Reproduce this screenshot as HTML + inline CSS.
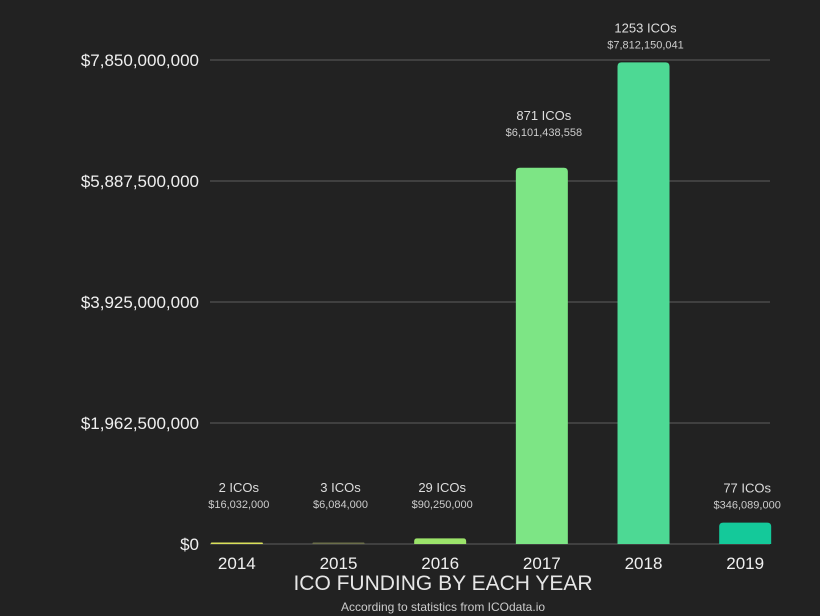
<!DOCTYPE html>
<html><head><meta charset="utf-8"><style>
html,body{margin:0;padding:0;background:#222222;}
svg{display:block;font-family:"Liberation Sans",sans-serif;}
</style></head><body>
<svg id="c" width="820" height="616">
<rect width="820" height="616" fill="#222222"/>
<g id="grid"></g><g id="bars"></g><g id="labels"></g>
<text x="443" y="590" text-anchor="middle" font-size="21" fill="#e6e6e6">ICO FUNDING BY EACH YEAR</text>
<text x="443" y="611" text-anchor="middle" font-size="12" fill="#cccccc">According to statistics from ICOdata.io</text>
</svg>
<script>
const years=["2014","2015","2016","2017","2018","2019"];
const funding=[16032000,6084000,90250000,6101438558,7812150041,346089000];
const icoCounts=[2,3,29,871,1253,77];
const fundingLabels=["$16,032,000","$6,084,000","$90,250,000","$6,101,438,558","$7,812,150,041","$346,089,000"];
const tickValues=[0,1962500000,3925000000,5887500000,7850000000];
const tickLabels=["$0","$1,962,500,000","$3,925,000,000","$5,887,500,000","$7,850,000,000"];
const colors=["#d9e05a","#6b6e4a","#9be36a","#7de585","#4dd994","#14c99a"];
const NS="http://www.w3.org/2000/svg";
const y0=544,y1=60,vmax=7850000000;
function y(v){return y0-(v/vmax)*(y0-y1);}
const left=186,step=101.67;
function x(i){return left+step*(i+0.5);}
function mk(tag,attrs,parent,txt){const e=document.createElementNS(NS,tag);for(const k in attrs)e.setAttribute(k,attrs[k]);if(txt!==undefined)e.textContent=txt;parent.appendChild(e);return e;}
const G=document.getElementById('grid'),B=document.getElementById('bars'),L=document.getElementById('labels');
tickValues.forEach((v,i)=>{
  const l=mk('line',{x1:210,x2:770,y1:y(v),y2:y(v),stroke:'#4a4a4a','stroke-width':1.5},G);
  
  
  const t=mk('text',{x:199,y:y(v)+6,'text-anchor':'end','font-size':17,fill:'#f0f0f0'},G,tickLabels[i]);
  
  
});
years.forEach((yr,i)=>{
  const top=y(funding[i]),h=Math.max(y0-top,1.5),w=52,cx=x(i);
  const r=Math.min(4,h/2);
  const d=`M${cx-w/2},${y0} L${cx-w/2},${y0-h+r} Q${cx-w/2},${y0-h} ${cx-w/2+r},${y0-h} L${cx+w/2-r},${y0-h} Q${cx+w/2},${y0-h} ${cx+w/2},${y0-h+r} L${cx+w/2},${y0} Z`;
  const b=mk('path',{d:d,fill:colors[i]},B);
  
  
  const gap=(y0-top>200||y0-top>15)?35:52;
  const base=(y0-top>200)?top:Math.min(top,y0-5);
  const ly=(y0-top>400)?top-35:(y0-top>200?top-53:(y0-top>15?top-35:y0-57));
  const t1=mk('text',{x:cx+2,y:ly+5,'text-anchor':'middle','font-size':13,fill:'#dddddd'},L,icoCounts[i]+' ICOs');
  
  
  const t2=mk('text',{x:cx+2,y:ly+21,'text-anchor':'middle','font-size':11,fill:'#cccccc'},L,fundingLabels[i]);
  
  
  const t3=mk('text',{x:cx,y:569,'text-anchor':'middle','font-size':17,fill:'#f0f0f0'},L,yr);
  
  
});
</script>
</body></html>
